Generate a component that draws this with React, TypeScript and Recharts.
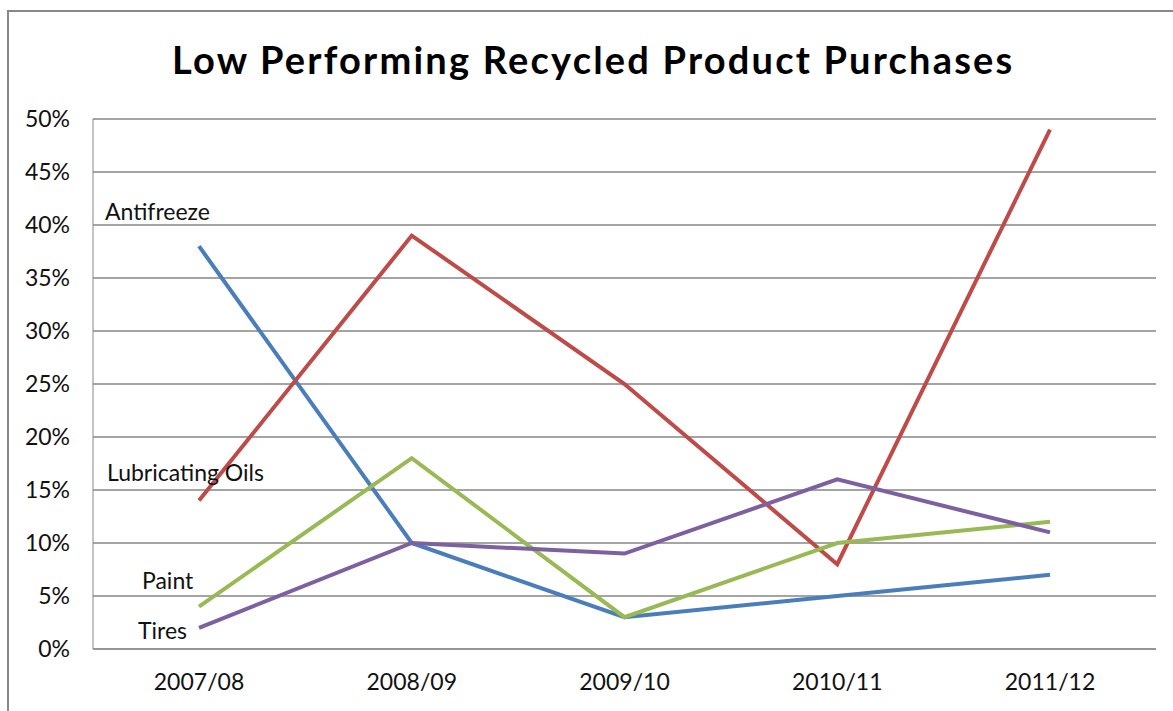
import { CartesianGrid, LabelList, Line, LineChart, XAxis, YAxis } from "recharts"

const years = ["2007/08", "2008/09", "2009/10", "2010/11", "2011/12"]
const antifreeze = [38, 10, 3, 5, 7]
const lubricatingOils = [14, 39, 25, 8, 49]
const paint = [4, 18, 3, 10, 12]
const tires = [2, 10, 9, 16, 11]
const yTicks = [0, 5, 10, 15, 20, 25, 30, 35, 40, 45, 50]

const data = years.map((year, i) => ({
  year,
  antifreeze: antifreeze[i],
  lubricatingOils: lubricatingOils[i],
  paint: paint[i],
  tires: tires[i],
}))

const font = "Lato, 'Noto Sans', sans-serif"

const series = [
  { key: "antifreeze", name: "Antifreeze", color: "#4A7EBB", dx: -94, dy: -26 },
  { key: "lubricatingOils", name: "Lubricating Oils", color: "#BE4B48", dx: -92, dy: -20 },
  { key: "paint", name: "Paint", color: "#98B954", dx: -57, dy: -18 },
  { key: "tires", name: "Tires", color: "#7D60A0", dx: -61, dy: 11 },
]

function firstLabel(name: string, dx: number, dy: number) {
  return (props: any) => {
    if (props.index !== 0) return null
    return (
      <text x={props.x + dx} y={props.y + dy} fontSize={23} fontFamily={font} fill="#111">
        {name}
      </text>
    )
  }
}

export default function App() {
  return (
    <div style={{ position: "absolute", left: 0, top: 0, width: 1173, height: 711, overflow: "hidden", background: "#fff" }}>
      <div style={{ position: "absolute", left: 7, top: 10, width: 1200, height: 760, border: "2px solid #888", boxSizing: "border-box" }} />
      <div style={{ position: "absolute", left: 172, top: 36, whiteSpace: "nowrap", fontFamily: font, fontWeight: 700, fontSize: 38, letterSpacing: 2.2, color: "#000", lineHeight: "46px" }}>
        Low Performing Recycled Product Purchases
      </div>
      <div style={{ position: "absolute", left: 0, top: 0 }}>
        <LineChart width={1173} height={711} data={data} margin={{ top: 119, right: 17, bottom: 32, left: 33 }}>
          <CartesianGrid horizontal vertical={false} stroke="#868686" strokeWidth={1.3} />
          <XAxis dataKey="year" height={30} padding={{ left: 106, right: 106 }} axisLine={{ stroke: "#868686" }} tickLine={false} tickSize={0} tickMargin={25}
            tick={{ fill: "#111", fontSize: 23, fontFamily: font }} />
          <YAxis width={60} domain={[0, 50]} ticks={yTicks} tickFormatter={(v) => `${v}%`} axisLine={{ stroke: "#868686" }}
            tickLine={false} tickSize={0} tickMargin={23} tick={{ fill: "#111", fontSize: 23, fontFamily: font }} />
          {series.map((s) => (
            <Line key={s.key} dataKey={s.key} type="linear" stroke={s.color} strokeWidth={4} dot={false} isAnimationActive={false}>
              <LabelList dataKey={s.key} content={firstLabel(s.name, s.dx, s.dy)} />
            </Line>
          ))}
        </LineChart>
      </div>
    </div>
  )
}
